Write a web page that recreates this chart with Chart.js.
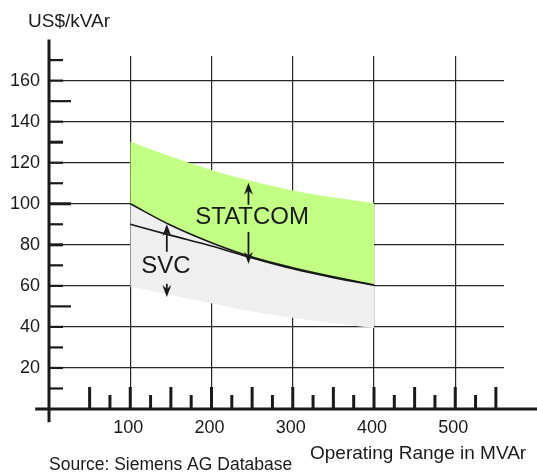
<!DOCTYPE html>
<html>
<head>
<meta charset="utf-8">
<script src="https://cdn.jsdelivr.net/npm/chart.js@4"></script>
<style>
  html, body { margin: 0; padding: 0; background: #fff; }
  #wrap { width: 537px; height: 474px; }
</style>
</head>
<body>
<div id="wrap"><canvas id="costChart" width="537" height="474"></canvas></div>
<script>
// Operating range in MVAr
const mvar = [100, 150, 200, 250, 300, 350, 400];
// STATCOM cost band (US$/kVAr)
const statcomHigh = [130.4, 123, 116.5, 111, 106.5, 103, 100.3];
const statcomLow = [100, 89.5, 81, 74, 68.8, 64.4, 60.5];
// SVC cost band (US$/kVAr)
const svcHigh = [90, 84.6, 79.4, 73.6, 68.3, 64, 60.3];
const svcLow = [59.7, 55.5, 51.5, 47.5, 44.5, 41.8, 39.5];

const yTicks = [20, 40, 60, 80, 100, 120, 140, 160];
const xTicks = [100, 200, 300, 400, 500];

const FONT = '"Liberation Sans", Arial, sans-serif';
const INK = '#1a1a1a';

function pts(arr) {
  return mvar.map((x, i) => ({ x: x, y: arr[i] }));
}

// arrow from y0 to tip y1 (pixels), head at the tip
function arrow(ctx, x, y0, y1) {
  const dir = y1 < y0 ? -1 : 1;
  ctx.beginPath();
  ctx.moveTo(x, y0);
  ctx.lineTo(x, y1 - dir * 7);
  ctx.stroke();
  ctx.beginPath();
  ctx.moveTo(x, y1);
  ctx.lineTo(x - 4.5, y1 - dir * 12);
  ctx.lineTo(x, y1 - dir * 8);
  ctx.lineTo(x + 4.5, y1 - dir * 12);
  ctx.closePath();
  ctx.fill();
}

const decor = {
  id: 'decor',
  afterDraw(chart) {
    const ctx = chart.ctx;
    const xs = chart.scales.x, ys = chart.scales.y;
    const X = v => xs.getPixelForValue(v);
    const Y = v => ys.getPixelForValue(v);
    ctx.save();
    ctx.strokeStyle = INK;
    ctx.fillStyle = INK;

    // axis lines
    ctx.lineWidth = 3;
    ctx.beginPath();
    ctx.moveTo(X(0), Y(180));
    ctx.lineTo(X(0), Y(-6.5));
    ctx.moveTo(X(-17), Y(0));
    ctx.lineTo(537, Y(0));
    ctx.stroke();

    // y axis minor ticks
    for (let v = 10; v <= 170; v += 10) {
      const long = v % 50 === 0;
      ctx.lineWidth = (v === 80 || v === 100 || v === 130) ? 3 : 2.2;
      ctx.beginPath();
      ctx.moveTo(X(0), Y(v));
      ctx.lineTo(X(0) + (long ? 22 : 14), Y(v));
      ctx.stroke();
    }
    // x axis ticks
    ctx.lineWidth = 3;
    for (let v = 50; v <= 550; v += 25) {
      const tall = v % 50 === 0;
      ctx.beginPath();
      ctx.moveTo(X(v), Y(0));
      ctx.lineTo(X(v), Y(0) - (tall ? 22 : 14));
      ctx.stroke();
    }

    // tick labels
    ctx.font = '18px ' + FONT;
    ctx.textBaseline = 'middle';
    ctx.textAlign = 'right';
    yTicks.forEach(v => ctx.fillText(String(v), 40, Y(v)));
    ctx.textAlign = 'center';
    xTicks.forEach(v => ctx.fillText(String(v), X(v) - 2, 428));

    // axis titles and source
    ctx.textAlign = 'left';
    ctx.font = '19px ' + FONT;
    ctx.fillText('US$/kVAr', 28, 22);
    ctx.fillText('Operating Range in MVAr', 310, 454);
    ctx.font = '17.5px ' + FONT;
    ctx.fillText('Source: Siemens AG Database', 49, 465);

    // band labels and arrows
    ctx.lineWidth = 1.8;
    arrow(ctx, X(245.5), Y(99.5), Y(110.2));
    arrow(ctx, X(245.5), Y(86.3), Y(70.8));
    arrow(ctx, X(145), Y(76.6), Y(90));
    arrow(ctx, X(145), Y(61), Y(54.6));
    ctx.font = '24px ' + FONT;
    ctx.textAlign = 'center';
    ctx.fillText('STATCOM', X(250), Y(93.5));
    ctx.fillText('SVC', X(144), Y(69.5));
    ctx.restore();
  }
};

new Chart(document.getElementById('costChart'), {
  type: 'line',
  data: {
    datasets: [
      {
        label: 'STATCOM high',
        data: pts(statcomHigh),
        borderWidth: 0,
        borderColor: 'rgba(0,0,0,0)',
        backgroundColor: '#c3ff85',
        fill: '+1',
        pointRadius: 0,
        cubicInterpolationMode: 'monotone'
      },
      {
        label: 'STATCOM low',
        data: pts(statcomLow),
        borderWidth: 1.6,
        borderColor: INK,
        backgroundColor: '#efefef',
        fill: '+2',
        pointRadius: 0,
        cubicInterpolationMode: 'monotone'
      },
      {
        label: 'SVC high',
        data: pts(svcHigh),
        borderWidth: 1.6,
        borderColor: INK,
        fill: false,
        pointRadius: 0,
        cubicInterpolationMode: 'monotone'
      },
      {
        label: 'SVC low',
        data: pts(svcLow),
        borderWidth: 0,
        borderColor: 'rgba(0,0,0,0)',
        fill: false,
        pointRadius: 0,
        cubicInterpolationMode: 'monotone'
      }
    ]
  },
  options: {
    responsive: false,
    devicePixelRatio: 1,
    animation: false,
    layout: { padding: { left: 49, right: 33, top: 56, bottom: 65 } },
    plugins: {
      legend: { display: false },
      tooltip: { enabled: false },
      filler: { drawTime: 'beforeDatasetsDraw' }
    },
    scales: {
      x: {
        type: 'linear',
        min: 0,
        max: 560,
        afterBuildTicks: s => { s.ticks = xTicks.map(v => ({ value: v })); },
        ticks: { display: false },
        border: { display: false },
        grid: { color: '#262626', lineWidth: 1.2, drawTicks: false }
      },
      y: {
        type: 'linear',
        min: 0,
        max: 172,
        afterBuildTicks: s => { s.ticks = yTicks.map(v => ({ value: v })); },
        ticks: { display: false },
        border: { display: false },
        grid: { color: '#262626', lineWidth: 1.2, drawTicks: false }
      }
    }
  },
  plugins: [decor]
});
</script>
</body>
</html>
